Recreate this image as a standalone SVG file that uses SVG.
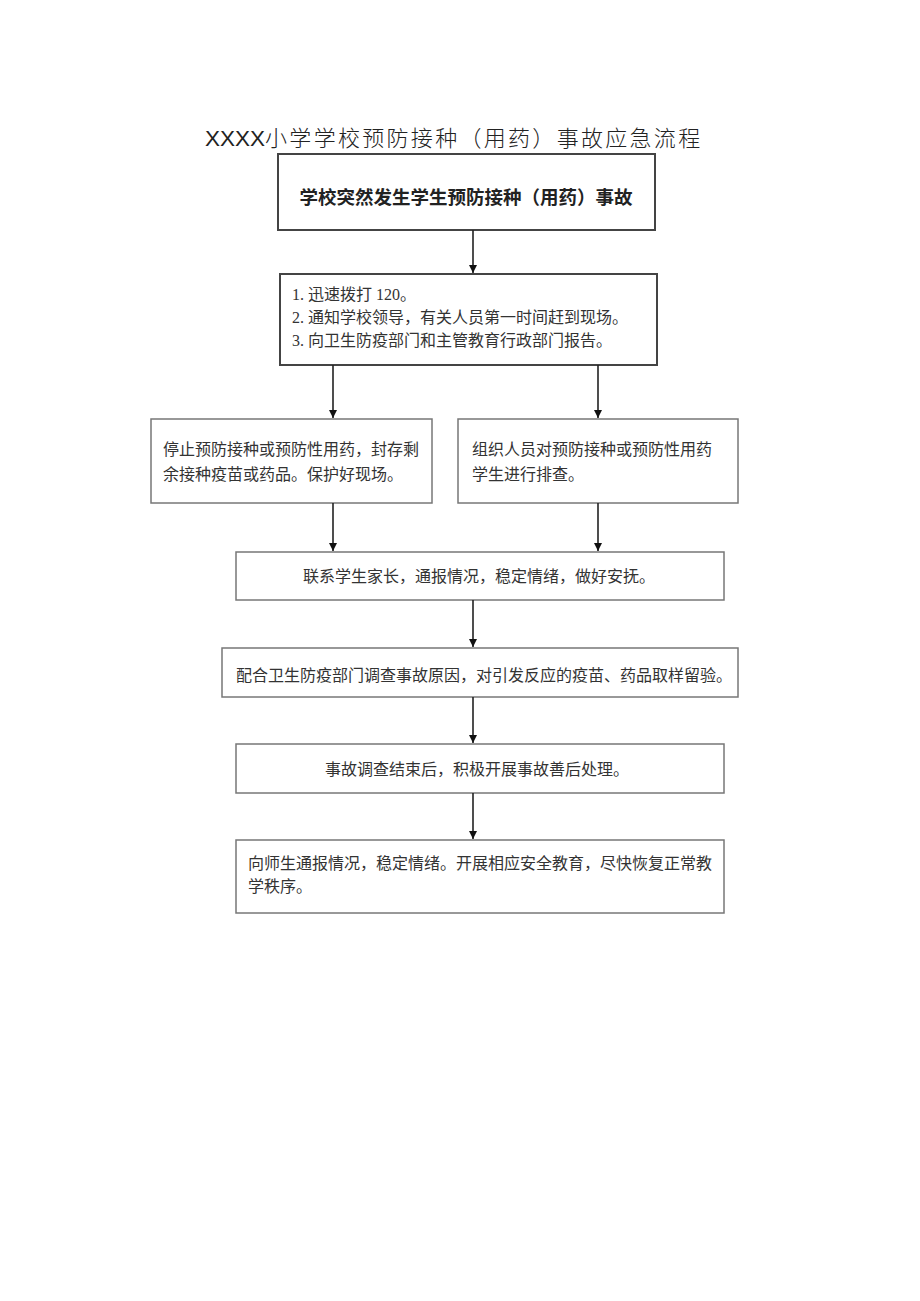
<svg xmlns="http://www.w3.org/2000/svg" width="920" height="1301" viewBox="0 0 920 1301">
<style>
.t{font-family:"Liberation Serif","Noto Sans CJK SC",serif;font-size:16px;fill:#333}
.c{text-anchor:middle}
.thick{fill:#fff;stroke:#444;stroke-width:2}
.thin{fill:#fff;stroke:#777;stroke-width:1.5}
.ln{stroke:#222;stroke-width:1.6;fill:none}
</style>
<defs>
<marker id="ah" viewBox="0 0 10 10" refX="10" refY="5" markerWidth="8" markerHeight="9" markerUnits="userSpaceOnUse" orient="auto">
<path d="M0,0 L10,5 L0,10 Z" fill="#111"/>
</marker>
</defs>
<rect width="920" height="1301" fill="#fff"/>
<text x="205" y="146" font-family="Liberation Sans,'Noto Sans CJK SC',sans-serif" font-size="22" font-weight="300" fill="#222"><tspan font-size="22.5">XXXX</tspan><tspan letter-spacing="2.3">小学学校预防接种（用药）事故应急流程</tspan></text>
<g id="n1"><rect class="thick" x="278" y="154" width="377" height="76"/>
<text x="466" y="204" class="c" font-family="'Noto Sans CJK SC',sans-serif" font-size="18.5" font-weight="bold" fill="#222">学校突然发生学生预防接种（用药）事故</text></g>
<g id="n2"><rect class="thick" x="280" y="274" width="377" height="91"/>
<text class="t" x="292" y="300">1. 迅速拨打 120。</text>
<text class="t" x="292" y="323">2. 通知学校领导，有关人员第一时间赶到现场。</text>
<text class="t" x="292" y="346">3. 向卫生防疫部门和主管教育行政部门报告。</text></g>
<g id="n3"><rect class="thin" x="151" y="419" width="281" height="84"/>
<text class="t" x="163" y="455">停止预防接种或预防性用药，封存剩</text>
<text class="t" x="163" y="480">余接种疫苗或药品。保护好现场。</text></g>
<g id="n4"><rect class="thin" x="458" y="419" width="280" height="84"/>
<text class="t" x="472" y="455">组织人员对预防接种或预防性用药</text>
<text class="t" x="472" y="480">学生进行排查。</text></g>
<g id="n5"><rect class="thin" x="236" y="552" width="488" height="48"/>
<text class="t c" x="479" y="582">联系学生家长，通报情况，稳定情绪，做好安抚。</text></g>
<g id="n6"><rect class="thin" x="222" y="648" width="516" height="49"/>
<text class="t c" x="484" y="681">配合卫生防疫部门调查事故原因，对引发反应的疫苗、药品取样留验。</text></g>
<g id="n7"><rect class="thin" x="236" y="744" width="488" height="49"/>
<text class="t c" x="477" y="775">事故调查结束后，积极开展事故善后处理。</text></g>
<g id="n8"><rect class="thin" x="236" y="840" width="488" height="73"/>
<text class="t" x="248" y="869">向师生通报情况，稳定情绪。开展相应安全教育，尽快恢复正常教</text>
<text class="t" x="248" y="892">学秩序。</text></g>
<g id="connectors">
<line class="ln" x1="473" y1="230" x2="473" y2="273" marker-end="url(#ah)"/>
<line class="ln" x1="333" y1="365" x2="333" y2="418" marker-end="url(#ah)"/>
<line class="ln" x1="598" y1="365" x2="598" y2="418" marker-end="url(#ah)"/>
<line class="ln" x1="333" y1="503" x2="333" y2="551" marker-end="url(#ah)"/>
<line class="ln" x1="598" y1="503" x2="598" y2="551" marker-end="url(#ah)"/>
<line class="ln" x1="473" y1="600" x2="473" y2="647" marker-end="url(#ah)"/>
<line class="ln" x1="473" y1="697" x2="473" y2="743" marker-end="url(#ah)"/>
<line class="ln" x1="473" y1="793" x2="473" y2="839" marker-end="url(#ah)"/>
</g>
</svg>
